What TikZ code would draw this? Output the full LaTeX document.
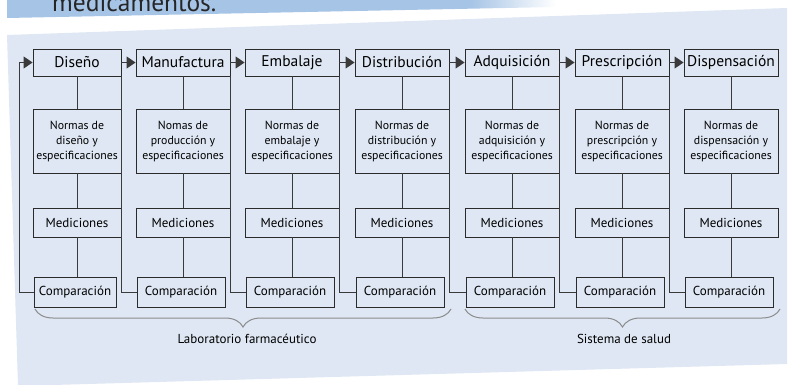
\documentclass[tikz,border=0pt]{standalone}
\usepackage{fontspec}
\setmainfont{PT Sans}
\usepackage{xcolor}
\usepackage{tikz}
\usetikzlibrary{arrows.meta,positioning,decorations.pathreplacing,calc}

\definecolor{panelblue}{HTML}{DEE7F3}
\definecolor{bannerblue}{HTML}{A6C4E5}
\definecolor{boxline}{HTML}{2B2B2B}
\definecolor{linkline}{HTML}{3A3A3A}
\definecolor{bracegray}{HTML}{8C8C8C}
\definecolor{titlegray}{HTML}{262626}

\begin{document}
\begin{tikzpicture}[x=1pt,y=-1pt,
  stage/.style={draw=boxline,line width=0.9pt,inner sep=0pt,minimum height=27pt,
    font=\fontsize{15.5}{17}\selectfont},
  norm/.style={draw=boxline,line width=0.9pt,inner sep=0pt,minimum height=64pt,
    align=center,font=\fontsize{11.8}{15}\selectfont},
  meas/.style={draw=boxline,line width=0.9pt,inner sep=0pt,minimum height=29pt,
    font=\fontsize{13}{14}\selectfont},
  comp/.style={draw=boxline,line width=0.9pt,inner sep=0pt,minimum height=30pt,
    minimum width=88pt,font=\fontsize{13}{14}\selectfont},
  link/.style={draw=linkline,line width=1pt},
  flow/.style={link,-{Triangle[length=9pt,width=12pt]}},
  group/.style={draw=bracegray,line width=1pt,
    decorate,decoration={brace,mirror,amplitude=18pt}},
  caption/.style={font=\fontsize{13}{14}\selectfont}]
  \useasboundingbox (0,0) rectangle (790,385);
  \clip (0,0) rectangle (790,385);
  % title strip (cut at the top)
  \fill[bannerblue] (7,-2)--(470,-2)--(470,8.7)--(7,18)--cycle;
  \shade[left color=bannerblue,right color=white] (470,-2)--(556,-2)--(556,7)--(470,8.7)--cycle;
  \node[anchor=base west,inner sep=0pt,text=titlegray,font=\fontsize{25.5}{28}\selectfont] (title) at (52,12) {medicamentos.};
  % panel
  \fill[panelblue] (7,35)--(787,8)--(787,364)--(18,386)--cycle;

  % stages
  \node[stage,minimum width=88pt] (t1) at (77,62.5) {Diseño};
  \node[stage,minimum width=94pt] (t2) at (183,62.5) {Manufactura};
  \node[stage,minimum width=94pt] (t3) at (292,62.5) {Embalaje};
  \node[stage,minimum width=94pt] (t4) at (402,62.5) {Distribución};
  \node[stage,minimum width=94pt] (t5) at (512,62.5) {Adquisición};
  \node[stage,minimum width=94pt] (t6) at (622,62.5) {Prescripción};
  \node[stage,minimum width=94pt] (t7) at (731,62.5) {Dispensación};

  \node[norm,minimum width=88pt] (n1) at (77,141) {Normas de\\diseño y\\especificaciones};
  \node[norm,minimum width=94pt] (n2) at (183,141) {Nomas de\\producción y\\especificaciones};
  \node[norm,minimum width=94pt] (n3) at (292,141) {Normas de\\embalaje y\\especificaciones};
  \node[norm,minimum width=94pt] (n4) at (402,141) {Normas de\\distribución y\\especificaciones};
  \node[norm,minimum width=94pt] (n5) at (512,141) {Normas de\\adquisición y\\especificaciones};
  \node[norm,minimum width=94pt] (n6) at (622,141) {Normas de\\prescripción y\\especificaciones};
  \node[norm,minimum width=94pt] (n7) at (731,141) {Normas de\\dispensación y\\especificaciones};

  \node[meas,minimum width=88pt] (m1) at (77,222.5) {Mediciones};
  \node[meas,minimum width=94pt] (m2) at (183,222.5) {Mediciones};
  \node[meas,minimum width=94pt] (m3) at (292,222.5) {Mediciones};
  \node[meas,minimum width=94pt] (m4) at (402,222.5) {Mediciones};
  \node[meas,minimum width=94pt] (m5) at (512,222.5) {Mediciones};
  \node[meas,minimum width=94pt] (m6) at (622,222.5) {Mediciones};
  \node[meas,minimum width=94pt] (m7) at (731,222.5) {Mediciones};

  \node[comp,minimum width=82pt] (c1) at (75,292) {Comparación};
  \node[comp] (c2) at (181,292) {Comparación};
  \node[comp] (c3) at (290,292) {Comparación};
  \node[comp] (c4) at (400,292) {Comparación};
  \node[comp] (c5) at (510,292) {Comparación};
  \node[comp] (c6) at (620,292) {Comparación};
  \node[comp] (c7) at (729,292) {Comparación};

  % chain of stages
  \draw[flow] (t1) -- (t2);
  \draw[flow] (t2) -- (t3);
  \draw[flow] (t3) -- (t4);
  \draw[flow] (t4) -- (t5);
  \draw[flow] (t5) -- (t6);
  \draw[flow] (t6) -- (t7);

  % inside each column
  \draw[link] (t1) -- (n1) (n1) -- (m1) (m1) -- (m1 |- c1.north);
  \draw[link] (t2) -- (n2) (n2) -- (m2) (m2) -- (m2 |- c2.north);
  \draw[link] (t3) -- (n3) (n3) -- (m3) (m3) -- (m3 |- c3.north);
  \draw[link] (t4) -- (n4) (n4) -- (m4) (m4) -- (m4 |- c4.north);
  \draw[link] (t5) -- (n5) (n5) -- (m5) (m5) -- (m5 |- c5.north);
  \draw[link] (t6) -- (n6) (n6) -- (m6) (m6) -- (m6 |- c6.north);
  \draw[link] (t7) -- (n7) (n7) -- (m7) (m7) -- (m7 |- c7.north);

  % comparison feeds the next column
  \draw[link] (t1.south east) |- (c2.west);
  \draw[link] (t2.south east) |- (c3.west);
  \draw[link] (t3.south east) |- (c4.west);
  \draw[link] (t4.south east) |- (c5.west);
  \draw[link] (t5.south east) |- (c6.west);
  \draw[link] (t6.south east) |- (c7.west);

  % loop back to design
  \coordinate (back) at (19,292);
  \draw[flow] (c1.west) -- (back) |- (t1.west);

  % groups
  \coordinate (labA) at (35,309);
  \coordinate (labB) at (451,309);
  \coordinate (salA) at (465,309);
  \coordinate (salB) at (780,309);
  \draw[group] (labA) -- (labB);
  \draw[group] (salA) -- (salB);
  \node[caption] (lab) at (247,339) {Laboratorio farmacéutico};
  \node[caption] (sal) at (624,339) {Sistema de salud};
\end{tikzpicture}
\end{document}
